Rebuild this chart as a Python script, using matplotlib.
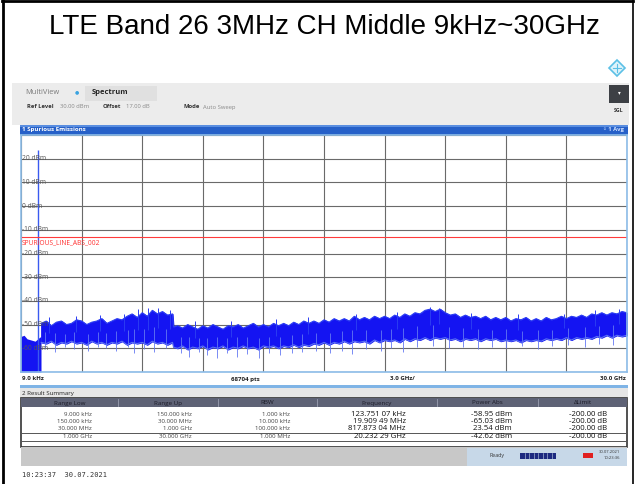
import matplotlib
matplotlib.use('Agg')
import matplotlib.pyplot as plt
from matplotlib.patches import Rectangle, Polygon
import numpy as np

TITLE = 'LTE Band 26 3MHz CH Middle 9kHz~30GHz'

# trace (GHz, dBm)
low_freq = [0.0, 0.15, 0.3, 0.5, 0.7, 0.9, 0.99]
low_upper = [-55.0, -54.5, -56.0, -56.5, -57.0, -55.5, -55.0]
carrier_freq = 0.8179
carrier_dbm = 23.54

# 1.0 .. 7.5 GHz, every 0.25 GHz
seg1_upper = [-49.5, -48.5, -50.5, -49.0, -48.5,
              -50.0, -49.5, -48.0, -48.5, -50.0, -49.0, -48.5, -47.5,
              -49.5, -48.5, -47.5, -48.0, -46.5, -45.5, -47.0, -45.0,
              -46.5, -44.0, -45.5, -44.5, -46.0, -45.5]
seg1_lower = [-57.5, -58.0, -57.0, -58.5, -57.5,
              -58.0, -57.0, -58.0, -57.5, -58.5, -57.0, -58.0, -57.5,
              -58.5, -57.5, -58.0, -57.0, -58.5, -57.5, -58.0, -57.5,
              -58.5, -57.0, -58.0, -57.5, -58.5, -57.5]
# 7.55 GHz, then 7.75 .. 30 GHz every 0.25 GHz
seg2_upper = [-51.0,
              -50.5, -51.5, -50.0, -51.0, -52.0, -50.5, -51.5, -50.0, -51.0, -52.0,
              -50.5, -51.0, -50.0, -51.5, -50.5, -49.5, -51.0, -50.0,
              -51.0, -49.5, -50.5, -49.5, -50.5, -49.0, -50.0, -48.5,
              -49.5, -48.5, -49.5, -48.0, -49.0, -47.5, -48.5, -47.5,
              -48.5, -46.5, -48.0, -47.0, -48.0, -46.5, -47.5, -46.5,
              -47.5, -46.0, -47.0, -45.5, -46.5, -45.0, -45.5, -44.0,
              -43.5, -44.5, -43.5, -45.0, -46.0, -45.5, -47.0, -46.0,
              -47.0, -46.5, -47.5, -46.5, -48.0, -47.0, -48.0, -47.0,
              -48.5, -47.5, -48.0, -47.0, -48.5, -47.5, -48.5, -47.0,
              -48.0, -47.5, -46.5, -47.5, -46.5, -47.0, -46.0, -47.0,
              -45.5, -46.0, -45.0, -46.0, -45.0, -45.5, -44.5, -45.0]
seg2_lower = [-59.5,
              -60.0, -59.0, -60.5, -59.5, -60.0, -59.0, -60.5, -59.5, -60.0, -59.0,
              -60.5, -59.5, -60.0, -59.0, -60.0, -59.5, -60.5, -59.0,
              -59.5, -59.0, -60.0, -59.0, -59.5, -58.5, -59.5, -58.5,
              -59.0, -58.0, -58.5, -57.5, -58.5, -57.5, -58.0, -57.0,
              -58.0, -57.0, -57.5, -57.0, -58.0, -56.5, -57.5, -56.5,
              -57.0, -56.5, -57.5, -56.0, -57.0, -56.0, -56.5, -55.5,
              -56.5, -55.5, -56.0, -55.5, -56.5, -56.0, -57.0, -56.0,
              -56.5, -56.0, -57.0, -56.0, -56.5, -56.0, -57.0, -56.5,
              -57.0, -56.5, -57.5, -56.5, -57.0, -56.5, -57.0, -56.0,
              -56.5, -56.0, -56.5, -55.5, -56.5, -55.5, -56.0, -55.5,
              -56.0, -55.0, -55.5, -54.5, -55.5, -54.5, -55.0, -54.5]

down_freq = [1.2, 1.7, 2.2, 2.6, 3.3, 3.8, 4.2, 4.7, 5.3, 5.6, 6.1, 6.6, 7.2, 7.9, 8.3, 8.8,
             9.2, 9.7, 10.2, 10.7, 11.2, 11.8, 12.3, 12.8, 13.4, 13.9, 14.6, 15.3, 15.9,
             16.4, 17.1, 17.8, 18.3, 18.9, 19.6, 20.4, 21.2, 21.9, 22.6, 23.3, 24.0, 24.8,
             25.6, 26.3, 27.1, 27.9, 28.6, 29.3]
down_dbm = [-60.0, -61.5, -59.5, -60.5, -61.0, -59.5, -60.0, -61.0, -59.5, -62.0, -60.5,
            -61.5, -60.0, -62.0, -63.5, -61.5, -63.0, -64.0, -62.0, -63.5, -62.5, -64.0,
            -62.0, -63.0, -62.0, -61.5, -61.0, -62.0, -61.0, -62.5, -60.5, -61.0, -60.0,
            -61.5, -59.5, -59.0, -60.0, -59.5, -60.5, -59.5, -60.0, -59.0, -60.5, -59.0,
            -58.5, -59.5, -58.0, -58.5]
up_freq = [1.4, 2.7, 3.9, 5.1, 5.8, 6.3, 6.8, 7.4, 8.6, 10.4, 12.6, 14.2, 16.6, 18.6,
           20.23, 20.7, 22.3, 24.6, 26.9, 28.4, 29.6]
up_dbm = [-47.0, -46.5, -46.0, -45.5, -43.5, -43.0, -42.8, -44.0, -48.5, -48.5, -47.5,
          -47.0, -45.5, -44.5, -42.62, -42.8, -45.0, -45.5, -45.5, -44.0, -43.5]

limit_dbm = -13
y_levels = [20, 10, 0, -10, -20, -30, -40, -50, -60]

# result summary table
headers = ['Range Low', 'Range Up', 'RBW', 'Frequency', 'Power Abs', '\u0394Limit']
range_low = ['9.000 kHz', '150.000 kHz', '30.000 MHz', '1.000 GHz']
range_up = ['150.000 kHz', '30.000 MHz', '1.000 GHz', '30.000 GHz']
rbw = ['1.000 kHz', '10.000 kHz', '100.000 kHz', '1.000 MHz']
peak_freq = ['123.751 07 kHz', '19.909 49 MHz', '817.873 04 MHz', '20.232 29 GHz']
power_abs = ['-58.95 dBm', '-65.03 dBm', '23.54 dBm', '-42.62 dBm']
delta_limit = ['-200.00 dB', '-200.00 dB', '-200.00 dB', '-200.00 dB']

BLUE = '#1414f2'
UI = ['Open Sans', 'DejaVu Sans']

seg1_freq = [1.0 + 0.25 * i for i in range(len(seg1_upper))]
seg2_freq = [7.55] + [7.75 + 0.25 * i for i in range(len(seg2_upper) - 1)]
band_freq = seg1_freq + seg2_freq
band_upper = seg1_upper + seg2_upper
band_lower = seg1_lower + seg2_lower

fig = plt.figure(figsize=(6.35, 4.84), dpi=100)
bg = fig.add_axes([0, 0, 1, 1])
bg.set_xlim(0, 635)
bg.set_ylim(484, 0)
bg.axis('off')

def box(x0, y0, x1, y1, **kw):
    bg.add_patch(Rectangle((x0, y0), x1 - x0, y1 - y0, **kw))

def txt(x, y, s, size=4.6, **kw):
    kw.setdefault('va', 'center')
    kw.setdefault('family', UI)
    bg.text(x, y, s, fontsize=size, **kw)

# outer frame
bg.plot([3, 3], [0, 484], color='black', lw=2)
bg.plot([2, 633], [1, 1], color='black', lw=2)
bg.plot([633, 633], [0, 484], color='black', lw=1.2)
bg.text(324, 27, TITLE, fontsize=20, family='Liberation Sans', ha='center', va='center')

# diamond icon
bg.add_patch(Polygon([(617, 60), (625, 68), (617, 76), (609, 68)], closed=True,
                     facecolor='#dff3fb', edgecolor='#5cc0e6', lw=1.2))
bg.plot([613, 621], [68, 68], color='#5cc0e6', lw=0.8)
bg.plot([617, 617], [64, 72], color='#5cc0e6', lw=0.8)

# toolbar
box(12, 83, 629, 125, color='#ececec', lw=0)
box(85, 86, 157, 101, color='#e0e0e0', lw=0)
txt(25, 93, 'MultiView', size=5.4, color='#7a7a7a')
txt(75, 92, '\u25cf', size=3.5, color='#3aa3e0')
txt(92, 93, 'Spectrum', size=5.4, color='#222222', weight='bold')
txt(27, 107, 'Ref Level', size=4.2, color='#333333', weight='bold')
txt(60, 107, '30.00 dBm', size=4.2, color='#8a8a8a')
txt(103, 107, 'Offset', size=4.2, color='#333333', weight='bold')
txt(126, 107, '17.00 dB', size=4.2, color='#8a8a8a')
txt(183, 107, 'Mode', size=4.2, color='#333333', weight='bold')
txt(203, 107, 'Auto Sweep', size=4.2, color='#8a8a8a')
box(609, 85, 629, 103, color='#3d4045', lw=0)
txt(619, 93, '\u25be', size=4, color='white', ha='center')
txt(619, 111, 'SGL', size=3.8, color='#333333', ha='center', weight='bold')

# window header
box(20, 125, 628, 135, color='#2660c8', lw=0)
box(20, 125, 628, 126.5, color='#5a8ee0', lw=0)
txt(22, 130, '1 Spurious Emissions', size=4.4, color='white', weight='bold')
txt(624, 130, '\u25e6 1 Avg', size=4.2, color='#cfe0ff', ha='right', weight='bold')

# x-axis label row
box(20, 372, 628, 385, color='white', lw=0)
txt(22, 379, '9.0 kHz', size=4.4, color='#222222', weight='bold')
txt(245, 379, '68704 pts', size=4.4, color='#222222', ha='center', weight='bold')
txt(402, 379, '3.0 GHz/', size=4.4, color='#222222', ha='center', weight='bold')
txt(626, 379, '30.0 GHz', size=4.4, color='#222222', ha='right', weight='bold')
box(20, 385, 628, 388, color='#7fb4e6', lw=0)
box(20, 388, 628, 398, color='#e6e6e6', lw=0)
txt(22, 393, '2 Result Summary', size=4.4, color='#222222')

# table
col_x = [21, 118, 218, 317, 437, 538, 627]
right_x = [92, 192, 290, 406, 512, 607]
box(21, 398, 627, 447, facecolor='white', edgecolor='#333333', lw=1.2)
box(21, 398, 627, 407, color='#5e6275', lw=0)
for xs in col_x[1:-1]:
    bg.plot([xs, xs], [399, 406], color='#9a9eb0', lw=0.6)
for i, h in enumerate(headers):
    txt((col_x[i] + col_x[i + 1]) / 2, 403, h, size=4.5, color='#1c1c28', ha='center')
bg.plot([21, 627], [433, 433], color='#555555', lw=0.7)
bg.plot([21, 627], [441, 441], color='#555555', lw=0.7)
row_y = [414, 421.5, 429, 437]
cols = [range_low, range_up, rbw, peak_freq, power_abs, delta_limit]
for c, values in enumerate(cols):
    big = c >= 3
    for r, v in enumerate(values):
        txt(right_x[c], row_y[r], v, size=5.6 if big else 4.4,
            color='#111111' if big else '#444444', ha='right')

# status bar
box(21, 447, 627, 466, color='#c8c8c8', lw=0)
box(467, 448, 627, 466, color='#c7d8e8', lw=0)
txt(497, 456, 'Ready', size=3.8, color='#333333', ha='center')
box(520, 453, 556, 459, color='#1d2a80', lw=0)
for k in range(1, 8):
    bg.plot([520 + k * 4.5, 520 + k * 4.5], [453, 459], color='#c7d8e8', lw=0.4)
box(583, 453, 593, 458, color='#e02020', lw=0)
txt(620, 452, '30.07.2021', size=3, color='#333333', ha='right')
txt(620, 458, '10:23:36', size=3, color='#333333', ha='right')

bg.text(22, 475, '10:23:37  30.07.2021', fontsize=5, family='DejaVu Sans Mono',
        color='#333333', va='center')

# spectrum plot
ax = fig.add_axes([21 / 635, (484 - 372) / 484, 606 / 635, 237 / 484])
ax.set_xlim(0, 30)
ax.set_ylim(-70, 30)
ax.set_xticks(np.arange(0, 31, 3))
ax.set_yticks(np.arange(-70, 31, 10))
ax.set_axisbelow(True)
ax.grid(True, color='#6a6a6a', lw=0.8)
ax.tick_params(length=0, labelbottom=False, labelleft=False)
for sp in ax.spines.values():
    sp.set_color('#8cbce8')
    sp.set_linewidth(1.2)

mid = (np.array(band_upper) + np.array(band_lower)) / 2
ax.vlines(down_freq, down_dbm, np.interp(down_freq, band_freq, mid), color='#6478f2', lw=0.6)
ax.vlines(up_freq, np.interp(up_freq, band_freq, mid), up_dbm, color='#2a3cf2', lw=0.7)
ax.fill_between(band_freq, band_lower, band_upper, color=BLUE, lw=0.8)
ax.plot(band_freq, band_upper, color='#2a3cf2', lw=0.8)
ax.plot(band_freq, band_lower, color='#5a70f2', lw=0.8)
ax.fill_between(low_freq, -70, low_upper, color=BLUE, lw=0)
ax.vlines(carrier_freq, -70, carrier_dbm, color='#3a5af0', lw=1.0)

ax.axhline(limit_dbm, color='#ff3a3a', lw=0.8)
ax.text(0.05, limit_dbm - 1.2, 'SPURIOUS_LINE_ABS_002', fontsize=4.8, family=UI,
        color='#ff3030', va='top')
for lv in y_levels:
    ax.text(0.05, lv, '%d dBm' % lv, fontsize=4.8, family=UI, color='#555555', va='center')

fig.savefig('out.png', dpi=100)
